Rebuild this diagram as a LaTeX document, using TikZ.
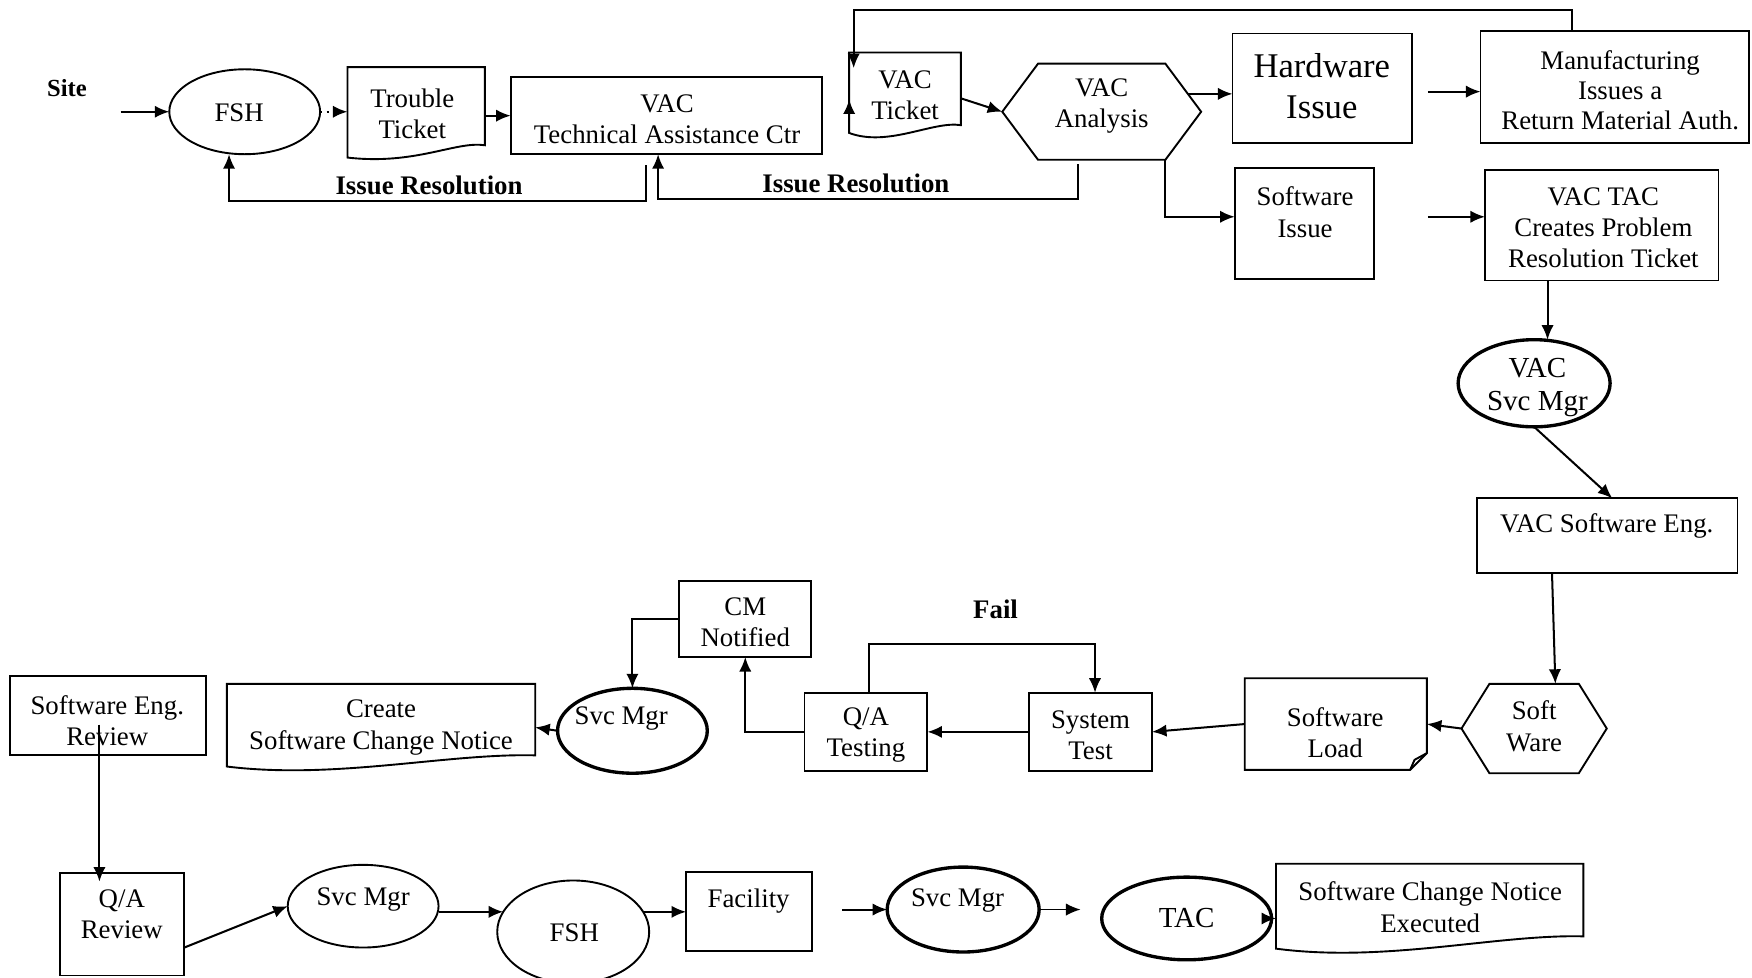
\documentclass[tikz,border=0pt]{standalone}
\usepackage{fontspec}
\setmainfont{Liberation Serif}
\usetikzlibrary{arrows.meta,calc,shapes.geometric}
\newcommand\myfs[2]{\fontsize{#1}{#2}\selectfont}
\begin{document}
\begin{tikzpicture}[x=0.5pt,y=-0.5pt,
  shp/.style={line width=0.85pt, line join=miter},
  box/.style={draw, line width=0.85pt, inner sep=0pt, outer sep=0pt},
  plain/.style={inner sep=0pt, outer sep=0pt},
  ell/.style={draw, ellipse, line width=0.85pt, inner sep=0pt, outer sep=0pt},
  ellb/.style={ell, line width=1.5pt},
  txt/.style={inner sep=0pt, align=center, font=\myfs{12}{14}},
  lbl/.style={inner sep=0pt, font=\myfs{12}{14}\bfseries},
  arr/.style={-{Latex[length=6.5pt,width=5.5pt]}, line width=0.9pt}]
\path[use as bounding box, fill=white] (0,0) rectangle (1568,875);
\clip (0,0) rectangle (1568,875);

% ---------- top row ----------
\node[lbl, font=\myfs{11}{13}\bfseries] (site) at (60,79) {Site};
\node[ell, minimum width=67.5pt, minimum height=38pt] (fsh1) at (219,100) {};
\node[txt] (fsh1t) at (214,101) {FSH};

\node[plain, minimum width=61.5pt, minimum height=40pt] (tt) at (372.5,100) {};
\draw[shp] (tt.north west) -- (tt.north east) -- (434,130) .. controls (408,126) and (372,148) .. (311,141) -- cycle;
\node[txt] (ttt) at (369,102) {Trouble\\Ticket};

\node[box, minimum width=139.5pt, minimum height=34.5pt] (tac) at (596.5,103.5) {};
\node[txt] (tact) at (597,107) {VAC\\Technical Assistance Ctr};

\node[plain, minimum width=50pt, minimum height=39pt] (vt) at (810,86) {};
\draw[shp] (vt.north west) -- (vt.north east) -- (860,112) .. controls (835,108) and (795,132) .. (760,119) -- cycle;
\node[txt] (vtt) at (810,85) {VAC\\Ticket};

\node[plain, minimum width=89pt, minimum height=43pt] (va) at (986,100) {};
\draw[shp] (va.west) -- ($(va.north west)+(32,0)$) -- ($(va.north east)+(-32,0)$) -- (va.east) -- ($(va.south east)+(-32,0)$) -- ($(va.south west)+(32,0)$) -- cycle;
\node[txt] (vat) at (986,95) {VAC\\Analysis};

\node[box, minimum width=80.5pt, minimum height=49pt] (hw) at (1183.5,79) {};
\node[txt, font=\myfs{15.5}{18}] (hwt) at (1183,77) {Hardware\\Issue};

\node[box, minimum width=120pt, minimum height=50pt] (mf) at (1445,78) {};
\node[txt, font=\myfs{12}{13.5}] (mft) at (1450,81) {Manufacturing\\Issues a\\Return Material Auth.};

\node[box, minimum width=62.5pt, minimum height=50pt] (si) at (1167.5,200) {};
\node[txt] (sit) at (1168,190) {Software\\Issue};

\node[box, minimum width=104.5pt, minimum height=49.5pt] (vtac) at (1433.5,201.5) {};
\node[txt] (vtact) at (1435,204) {VAC TAC\\Creates Problem\\Resolution Ticket};

% ---------- right column ----------
\node[ellb, minimum width=68pt, minimum height=39pt] (vsm) at (1373,343) {};
\node[txt, font=\myfs{13}{15}] (vsmt) at (1376,347) {VAC\\Svc Mgr};

\node[box, minimum width=116.5pt, minimum height=33.5pt] (vse) at (1438.5,479.5) {};
\node[txt] (vset) at (1438,471) {VAC Software Eng.};

\node[plain, minimum width=65pt, minimum height=40pt] (sw) at (1373,652) {};
\draw[shp] (sw.west) -- ($(sw.north west)+(25,0)$) -- ($(sw.north east)+(-25,0)$) -- (sw.east) -- ($(sw.south east)+(-25,0)$) -- ($(sw.south west)+(25,0)$) -- cycle;
\node[txt] (swt) at (1373,650) {Soft\\Ware};

% ---------- middle row ----------
\node[plain, minimum width=81.5pt, minimum height=41pt] (sl) at (1195.5,648) {};
\draw[shp] (sl.north west) -- (sl.north east) -- ($(sl.south east)+(0,-15)$) -- ($(sl.south east)+(-15,0)$) -- (sl.south west) -- cycle;
\draw[shp] ($(sl.south east)+(0,-15)$) -- ($(sl.south east)+(-11,-9)$) -- ($(sl.south east)+(-15,0)$);
\node[txt] (slt) at (1195,656) {Software\\Load};

\node[box, minimum width=55pt, minimum height=35pt] (st) at (976,655) {};
\node[txt] (stt) at (976,658) {System\\Test};

\node[box, minimum width=55pt, minimum height=35pt] (qa) at (775,655) {};
\node[txt] (qat) at (775,658) {Q/A\\Testing};

\node[lbl] (fail) at (891,545) {Fail};

\node[box, minimum width=59pt, minimum height=34pt] (cm) at (667,554) {};
\node[txt] (cmt) at (667,557) {CM\\Notified};

\node[ellb, minimum width=67pt, minimum height=38pt] (sm1) at (566,654) {};
\node[txt] (sm1t) at (556,643) {Svc Mgr};

\node[plain, minimum width=138pt, minimum height=39pt] (cscn) at (341,651) {};
\draw[shp] (cscn.north west) -- (cscn.north east) -- (479,676) .. controls (400,674) and (300,698) .. (203,686) -- cycle;
\node[txt] (cscnt) at (341,651) {Create\\Software Change Notice};

\node[box, minimum width=87.5pt, minimum height=35.5pt] (ser) at (96.5,640.5) {};
\node[txt] (sert) at (96,645) {Software Eng.\\Review};

% ---------- bottom row ----------
\node[box, minimum width=55.5pt, minimum height=46pt] (qar) at (109.5,827) {};
\node[txt] (qart) at (109,818) {Q/A\\Review};

\node[ell, minimum width=67.5pt, minimum height=37pt] (sm2) at (325,811) {};
\node[txt] (sm2t) at (325,805) {Svc Mgr};

\node[ell, minimum width=68pt, minimum height=46pt] (fsh2) at (513,834) {};
\node[txt] (fsh2t) at (514,835) {FSH};

\node[box, minimum width=56.5pt, minimum height=35.5pt] (fac) at (670.5,815.5) {};
\node[txt] (fact) at (670,806) {Facility};

\node[ellb, minimum width=68pt, minimum height=38pt] (sm3) at (862,814) {};
\node[txt] (sm3t) at (857,806) {Svc Mgr};

\node[ellb, minimum width=76pt, minimum height=37pt] (tac2) at (1062,822) {};
\node[txt, font=\myfs{13}{15}] (tac2t) at (1062,822) {TAC};

\node[plain, minimum width=137.5pt, minimum height=41pt] (scne) at (1279.5,814) {};
\draw[shp] (scne.north west) -- (scne.north east) -- (1417,838) .. controls (1340,836) and (1240,862) .. (1142,849) -- cycle;
\node[txt] (scnet) at (1280,812) {Software Change Notice\\Executed};

% ---------- connectors ----------
\coordinate (s0) at (108,100);
\draw[arr] (s0) -- (fsh1.west);
\draw[arr, dotted, line width=1.1pt] (fsh1.east) -- (tt.west);
\draw[arr] (tac.west -| tt.east) -- (tac.west);

\coordinate (ir1) at (578,148);
\draw[arr] (ir1) -- ++(0,32) -| ($(fsh1.south)+(-14,0)$);
\node[lbl] (ir1t) at (384,166) {Issue Resolution};
\draw[arr] ($(va.south)+(-21,4)$) -- ++(0,31) -| ($(tac.south)+(-7.5,0)$);
\node[lbl] (ir2t) at (766,164) {Issue Resolution};

\draw[arr] ($(mf.north)+(-38,0)$) -- ++(0,-19) -| ($(vt.north west)+(4,14)$);
\draw[arr] ($(vt.west)+(0,26)$) -- ($(vt.west)+(0,3)$);
\draw[arr] ($(vt.east)+(0,2)$) -- (va.west);

\coordinate (vah) at ($(va.east)+(-12,-16)$);
\draw[arr] (vah) -- (vah -| hw.west);
\coordinate (vab) at ($(va.south east)+(-32,0)$);
\draw[arr] (vab) |- ($(si.west)+(0,-6)$);

\coordinate (hm) at (1278,82);
\draw[arr] (hm) -- (hm -| mf.west);
\coordinate (sv) at (1278,194);
\draw[arr] (sv) -- (sv -| vtac.west);

\draw[arr] ($(vtac.south)+(-48.5,0)$) -- ($(vsm.north)+(12,0)$);
\draw[arr] (vsm.south) -- ($(vse.north)+(4.5,0)$);
\draw[arr] ($(vse.south)+(-49.5,0)$) -- ($(sw.north)+(19,0)$);
\draw[arr] (sw.west) -- (sl.east);
\draw[arr] (sl.west) -- (st.east);
\draw[arr] (st.west) -- (qa.east);
\draw[arr] ($(qa.north)+(3,0)$) -- ++(0,-44) -| ($(st.north)+(4,0)$);
\draw[arr] (qa.west) -| (cm.south);
\draw[arr] (cm.west) -| (sm1.north);
\draw[arr] (sm1.west) -- (cscn.east);

\draw[arr] ($(ser.center)+(-7.5,8)$) -- ($(qar.north)+(-20.5,8)$);
\draw[arr] ($(qar.east)+(0,21)$) -- (sm2.west);
\draw[arr] (sm2.east |- fsh2.164) -- (fsh2.164);
\draw[arr] (fsh2.16) -- (fsh2.16 -| fac.west);
\coordinate (fs) at (754,814);
\draw[arr] (fs) -- (sm3.west);
\coordinate (st3) at (967,813);
\draw[arr, line width=0.6pt] (sm3.east) -- (st3 |- sm3.east);
\draw[arr] (tac2.east) -- (tac2.east -| scne.west);
\end{tikzpicture}
\end{document}
